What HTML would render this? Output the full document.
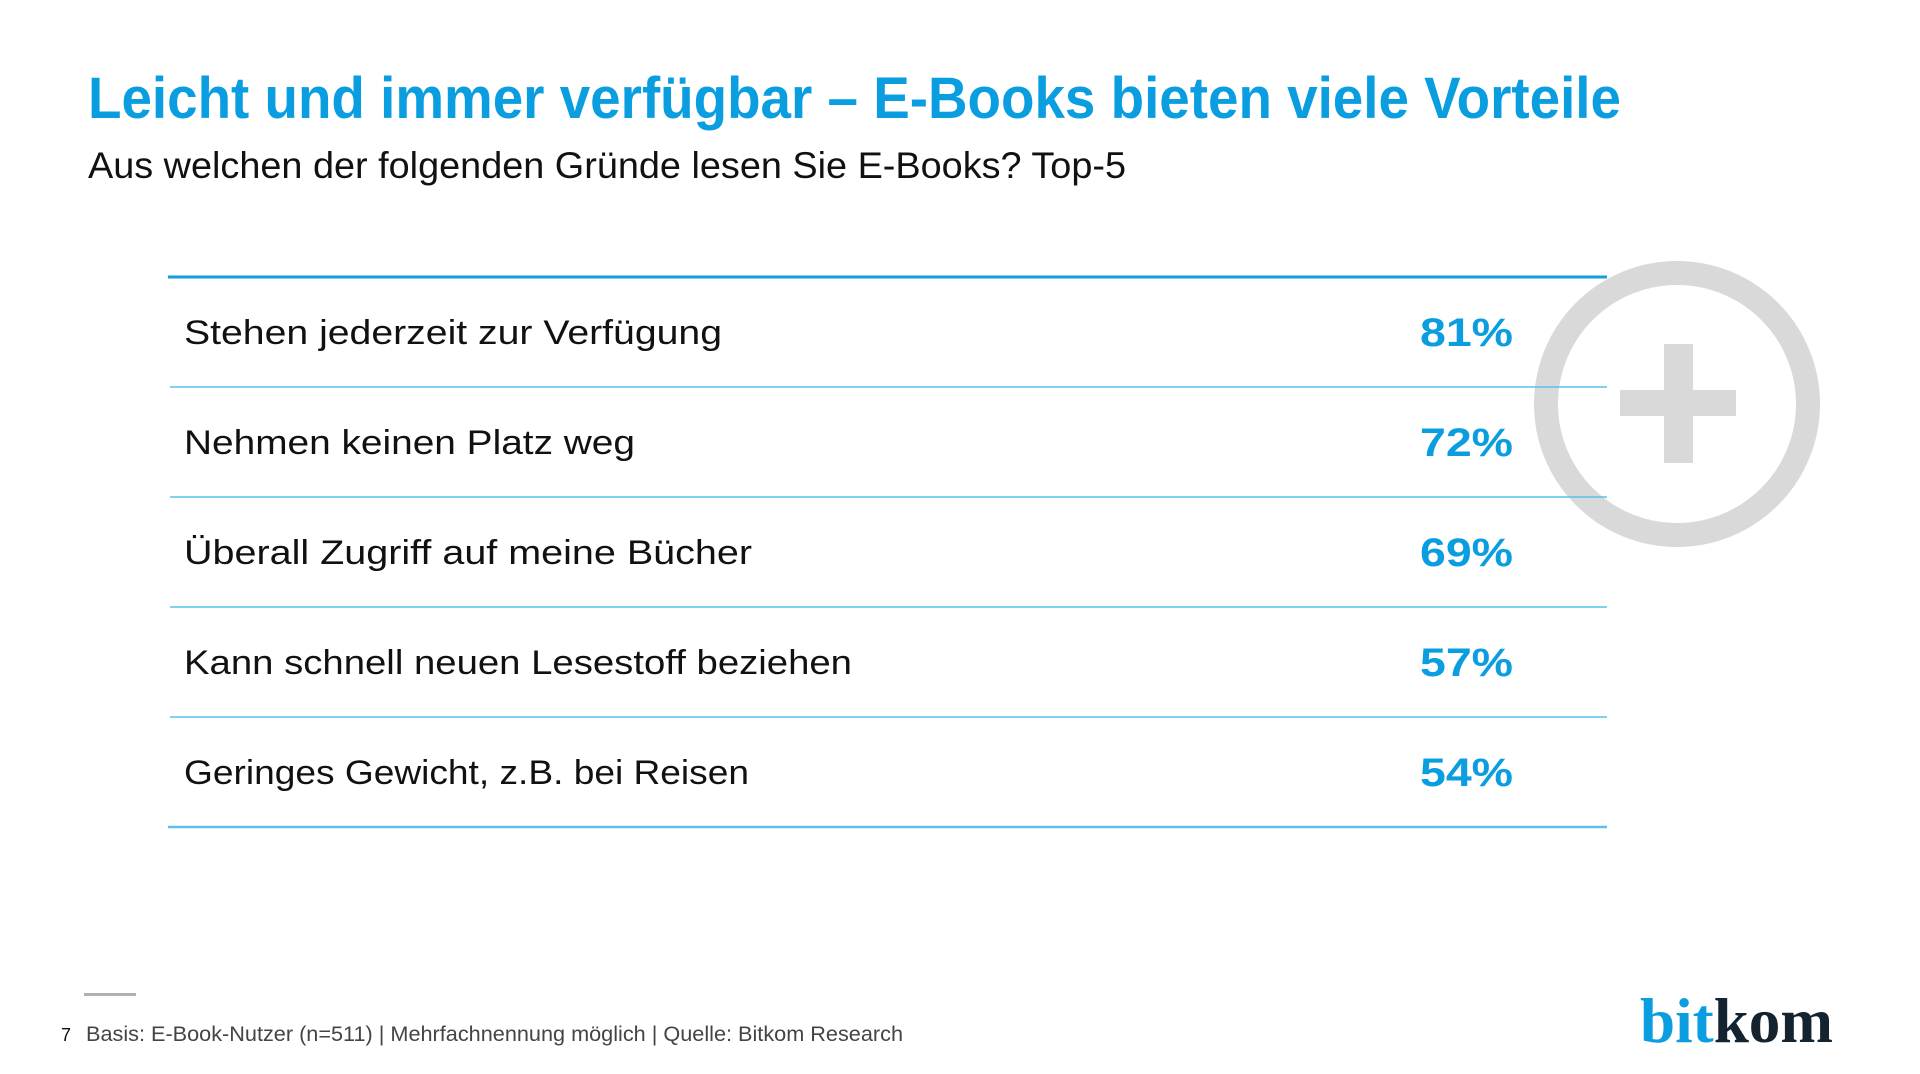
<!DOCTYPE html>
<html><head><meta charset="utf-8"><style>
html,body{margin:0;padding:0;background:#fff;}
svg{display:block;}
</style></head><body>
<svg width="1920" height="1074" viewBox="0 0 1920 1074" xmlns="http://www.w3.org/2000/svg">
  <text x="88" y="118" font-family="Liberation Sans, sans-serif" font-weight="bold" font-size="58" fill="#0a9ee0" textLength="1533" lengthAdjust="spacingAndGlyphs">Leicht und immer verfügbar – E-Books bieten viele Vorteile</text>
  <text x="88" y="178" font-family="Liberation Sans, sans-serif" font-size="37" fill="#111" textLength="1038" lengthAdjust="spacingAndGlyphs">Aus welchen der folgenden Gründe lesen Sie E-Books? Top-5</text>

  <g>
    <circle cx="1677" cy="404" r="131" fill="none" stroke="#d9d9d9" stroke-width="24"/>
    <rect x="1620" y="390" width="116" height="26" fill="#d9d9d9"/>
    <rect x="1664" y="344" width="29" height="119" fill="#d9d9d9"/>
  </g>

  <g id="table"></g>

  <rect x="84" y="993" width="52" height="3" fill="#b0b0b0"/>
  <text x="61" y="1041" font-family="Liberation Sans, sans-serif" font-size="18" fill="#111">7</text>
  <text x="86" y="1041" font-family="Liberation Sans, sans-serif" font-size="21" fill="#444" textLength="817" lengthAdjust="spacingAndGlyphs">Basis: E-Book-Nutzer (n=511) | Mehrfachnennung möglich | Quelle: Bitkom Research</text>
  <text x="1640" y="1042" font-family="Liberation Serif, serif" font-weight="bold" font-size="64" textLength="193" lengthAdjust="spacingAndGlyphs"><tspan fill="#0a9ee0">bit</tspan><tspan fill="#13232f">kom</tspan></text>
</svg>
<script>
const labels = ["Stehen jederzeit zur Verfügung","Nehmen keinen Platz weg","Überall Zugriff auf meine Bücher","Kann schnell neuen Lesestoff beziehen","Geringes Gewicht, z.B. bei Reisen"];
const values = [81,72,69,57,54];
const labelWidths = [538,451,568,668,565];

const NS = "http://www.w3.org/2000/svg";
const g = document.getElementById('table');
const top0 = 277, rowH = 110, x0 = 170, x1 = 1607;
function rowY(i){ return top0 + i*rowH; }
function mk(tag, attrs){ const e=document.createElementNS(NS,tag); for(const k in attrs) e.setAttribute(k, attrs[k]); g.appendChild(e); return e; }

const topLine = mk('line',{x1:x0-2,x2:x1,y1:top0,y2:top0,stroke:'#149ddf','stroke-width':3});



labels.forEach((lab,i)=>{
  const cy = rowY(i) + rowH/2;
  const t = mk('text',{x:184,y:cy+12,'font-family':'Liberation Sans, sans-serif','font-size':34,fill:'#111',textLength:labelWidths[i],lengthAdjust:'spacingAndGlyphs'});
  t.textContent = lab;
  
  
  const v = mk('text',{x:1513,y:cy+14,'text-anchor':'end','font-family':'Liberation Sans, sans-serif','font-weight':'bold','font-size':40,fill:'#0a9ee0',textLength:93,lengthAdjust:'spacingAndGlyphs'});
  v.textContent = values[i] + '%';
  
  
  const yl = rowY(i+1);
  const l = mk('line',{x1:i===labels.length-1?x0-2:x0,x2:x1,y1:yl,y2:yl,stroke:'#5cc0ec','stroke-width':i===labels.length-1?2.5:1.5});
  
  
});
</script>
</body></html>
